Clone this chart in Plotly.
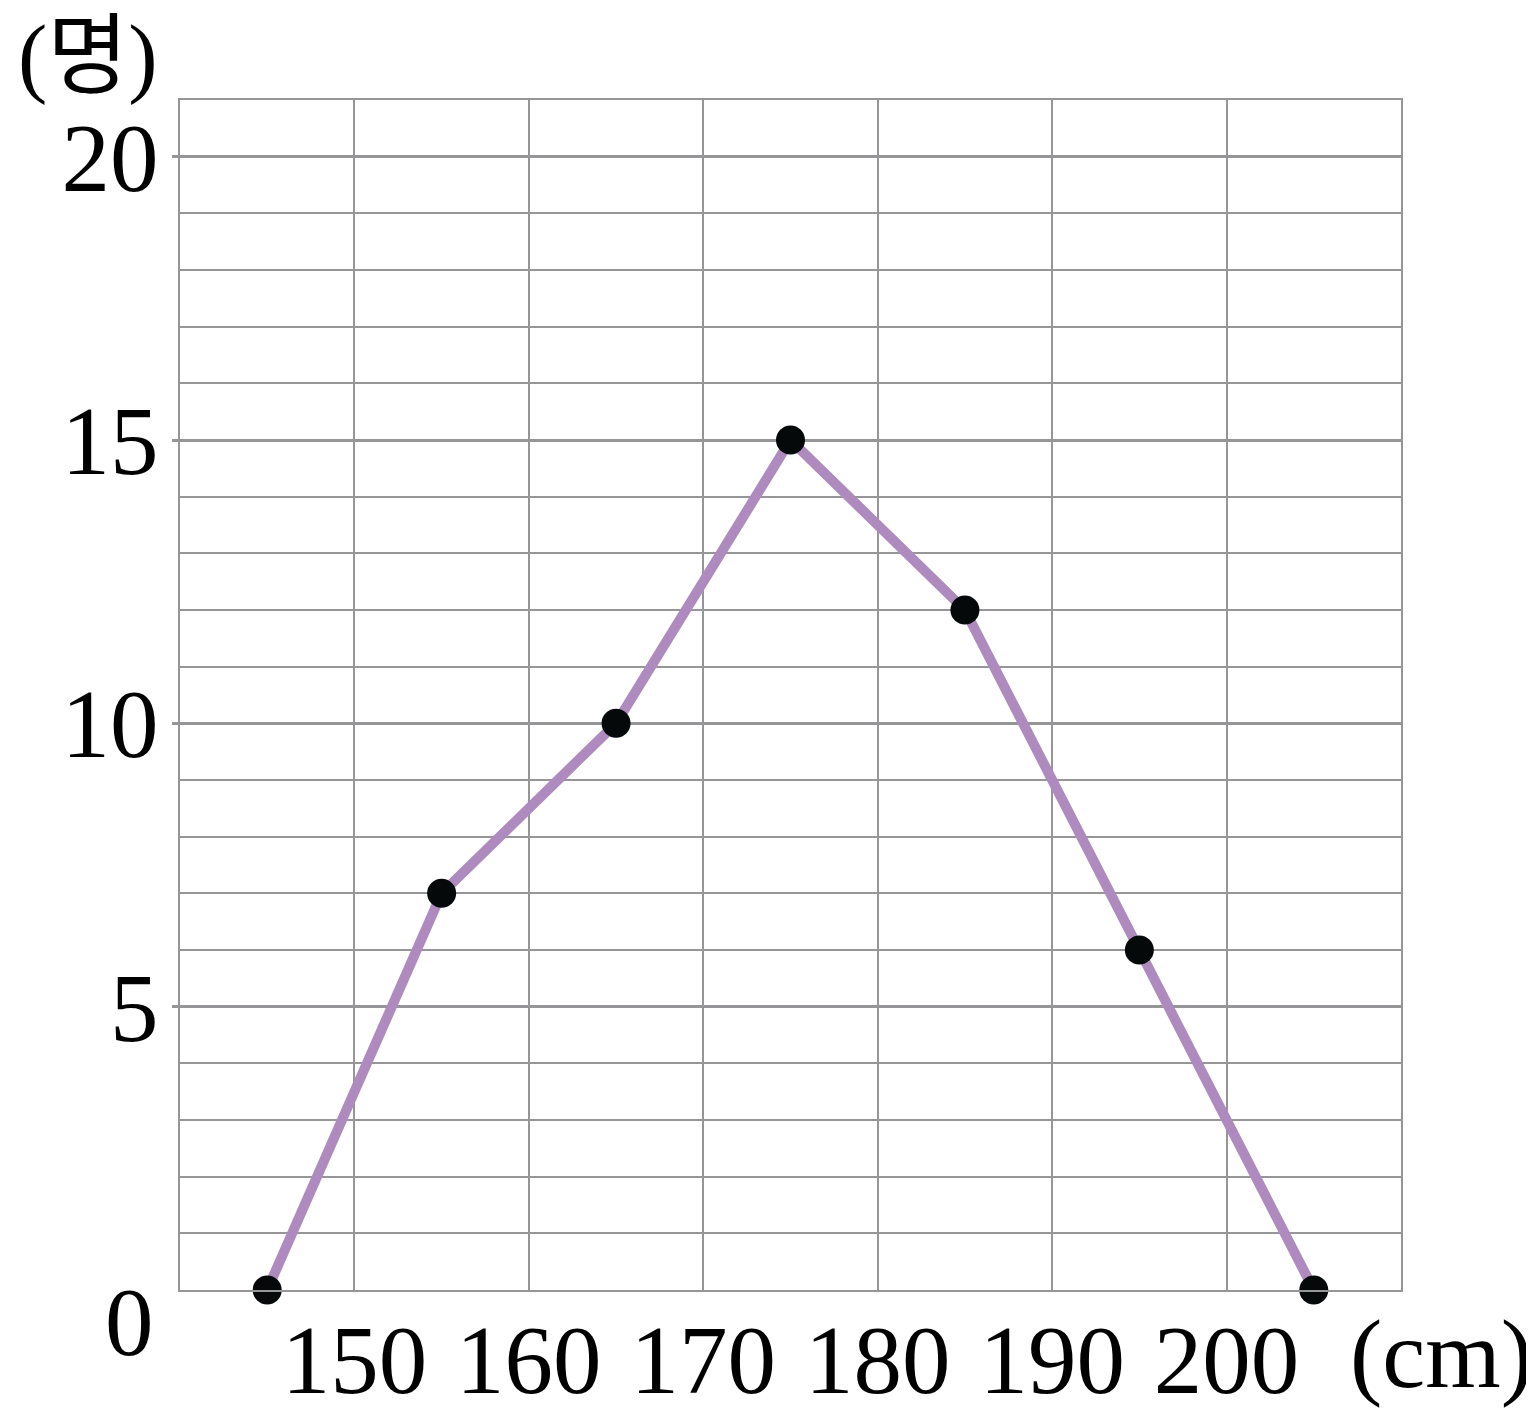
import plotly.graph_objects as go

# Data
heights = [145, 155, 165, 175, 185, 195, 205]   # class midpoints (cm)
counts = [0, 7, 10, 15, 12, 6, 0]               # number of people (명)
x_ticks = [150, 160, 170, 180, 190, 200]
y_ticks = [5, 10, 15, 20]

FONT = "Liberation Serif, Noto Sans CJK KR, serif"
GRID = "#969698"
FS = 97

fig = go.Figure()
fig.add_trace(go.Scatter(
    x=heights, y=counts, mode="lines+markers",
    line=dict(color="#ae8abf", width=10),
    marker=dict(color="#050909", size=29),
    cliponaxis=False, showlegend=False,
))

fig.update_xaxes(
    range=[140, 210], tickvals=x_ticks, ticktext=[str(v) for v in x_ticks],
    showgrid=True, gridcolor=GRID, gridwidth=2,
    showline=True, linecolor=GRID, linewidth=2, mirror=True,
    zeroline=False, ticks="", ticklabelstandoff=-15, automargin=False,
    tickfont=dict(family=FONT, size=FS, color="black"),
)
fig.update_yaxes(
    range=[0, 21], tickvals=y_ticks, ticktext=[str(v) for v in y_ticks],
    showgrid=True, gridcolor=GRID, gridwidth=3,
    minor=dict(dtick=1, tick0=0, showgrid=True, gridcolor=GRID, gridwidth=2),
    showline=True, linecolor=GRID, linewidth=2, mirror=True,
    zeroline=False, ticks="outside", ticklen=6, tickwidth=3, tickcolor=GRID,
    ticklabelstandoff=-6, automargin=False,
    tickfont=dict(family=FONT, size=FS, color="black"),
)

fig.add_annotation(text="0", xref="paper", x=0, yref="y", y=0,
                   xanchor="right", yanchor="middle", xshift=-24, yshift=-32,
                   showarrow=False, font=dict(family=FONT, size=FS, color="black"))
fig.add_annotation(text="(cm)", xref="paper", x=1, yref="y", y=0,
                   xanchor="left", yanchor="middle", xshift=-53, yshift=-64,
                   showarrow=False, font=dict(family=FONT, size=FS, color="black"))
fig.add_annotation(text="(명)", xref="paper", x=0, yref="paper", y=1,
                   xanchor="right", yanchor="middle", xshift=-20, yshift=44,
                   showarrow=False, font=dict(family=FONT, size=88, color="black"))

fig.update_layout(
    width=1534, height=1423,
    margin=dict(l=172, r=141, t=92, b=141, autoexpand=False),
    paper_bgcolor="white", plot_bgcolor="white",
)

fig.write_html("out.html")
